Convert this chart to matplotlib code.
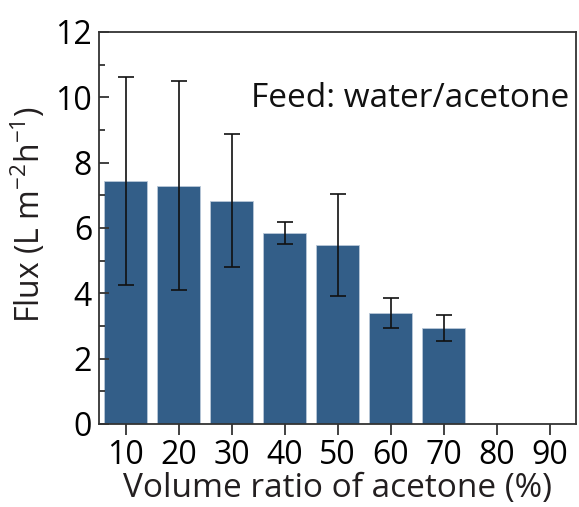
import numpy as np
import matplotlib.pyplot as plt
from matplotlib.ticker import MultipleLocator

plt.rcParams['font.family'] = ['Open Sans', 'DejaVu Sans']
plt.rcParams['mathtext.fontset'] = 'custom'
plt.rcParams['mathtext.rm'] = 'Open Sans'

# acetone volume ratio (%) and measured flux
ratio = [10, 20, 30, 40, 50, 60, 70]
flux = [7.44, 7.29, 6.84, 5.84, 5.48, 3.41, 2.93]
flux_err = [3.17, 3.20, 2.03, 0.33, 1.56, 0.46, 0.40]
xticks = [10, 20, 30, 40, 50, 60, 70, 80, 90]

bar_color = '#335e88'

fig = plt.figure(figsize=(5.79, 5.07), dpi=100)
ax = fig.add_axes([99 / 579, 1 - 424 / 507, 477 / 579, 392 / 507])

ax.bar(ratio, flux, width=8.2, color=bar_color, edgecolor='#b9c8d8', linewidth=0.6)
ax.errorbar(ratio, flux, yerr=flux_err, fmt='none', ecolor='#111111',
            elinewidth=1.2, capsize=6, capthick=1.2)

ax.set_xlim(5, 95)
ax.set_ylim(0, 12)
ax.set_xticks(xticks)
ax.yaxis.set_major_locator(MultipleLocator(2))
ax.yaxis.set_minor_locator(MultipleLocator(1))

for s in ax.spines.values():
    s.set_linewidth(1.3)
    s.set_color('#333333')

ax.tick_params(axis='y', which='major', direction='in', length=7, width=1.3,
               labelsize=23, pad=5, color='#333333')
ax.tick_params(axis='y', which='minor', direction='in', length=4, width=1.3,
               color='#333333')
ax.tick_params(axis='x', which='major', direction='out', length=8, width=1.3,
               labelsize=23, pad=3, color='#333333')

ax.set_xlabel('Volume ratio of acetone (%)', fontsize=24, color='#231f20', labelpad=0)
ax.set_ylabel(r'Flux (L m$^{\mathregular{-2}}$h$^{\mathregular{-1}}$)', fontsize=23,
              color='#231f20')
ax.yaxis.set_label_coords(-0.107, 0.535)

ax.text(0.985, 0.83, 'Feed: water/acetone', transform=ax.transAxes,
        ha='right', va='center', fontsize=24, color='#111111')

fig.savefig('out.png', dpi=100)
